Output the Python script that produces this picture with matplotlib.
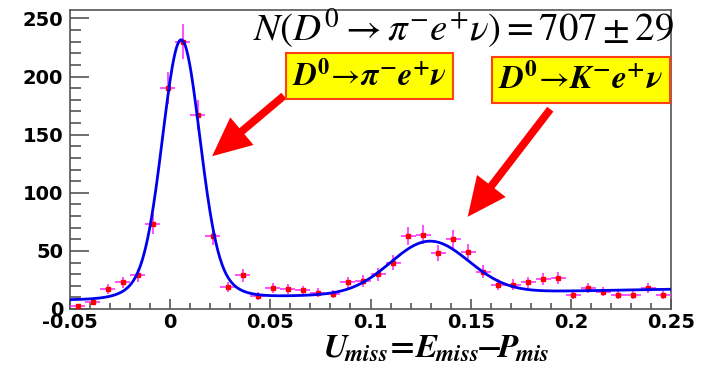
import numpy as np
import matplotlib
matplotlib.use("Agg")
import matplotlib.pyplot as plt
from matplotlib.ticker import MultipleLocator

plt.rcParams['mathtext.fontset'] = 'stix'

# ---- data ----
bin_lo, bin_hi, n_bins = -0.05, 0.25, 40
counts = [3, 6, 17, 23, 29, 73, 190, 230, 167, 63,
          19, 29, 11, 18, 17, 16, 14, 13, 23, 24,
          30, 40, 63, 64, 48, 60, 49, 32, 21, 21,
          23, 26, 27, 12, 18, 15, 12, 12, 18, 12]

# fit function parameters (signal core + tail, K e nu peak, linear background)
sig_core = (190.0, 0.0055, 0.009)
sig_tail = (32.0, 0.0055, 0.0155)
kev_peak = (45.0, 0.1295, 0.0195)
bkg_left, bkg_right = 8.0, 17.0

x_ticks = [-0.05, 0, 0.05, 0.1, 0.15, 0.2, 0.25]
x_ticklabels = ['-0.05', '0', '0.05', '0.1', '0.15', '0.2', '0.25']
y_ticks = [0, 50, 100, 150, 200, 250]

title_text = r'$N(D^0 \rightarrow \pi^{-} e^{+} \nu) = 707 \pm 29$'
box1_text = r'$\mathbfit{D}^{\mathbf{0}}\!\rightarrow\!\mathbfit{\pi}^{\mathbf{-}}\mathbfit{e}^{\mathbf{+}}\mathbfit{\nu}$'
box2_text = r'$\mathbfit{D}^{\mathbf{0}}\!\rightarrow\!\mathbfit{K}^{\mathbf{-}}\mathbfit{e}^{\mathbf{+}}\mathbfit{\nu}$'
xlabel_text = (r'$\mathbfit{U}_{\!\mathbfit{miss}}\!{\mathbf{=}}\!'
               r'\mathbfit{E}_{\!\mathbfit{miss}}\!{\mathbf{-}}\!'
               r'\mathbfit{P}_{\!\mathbfit{mis}}$')

# ---- derived ----
width = (bin_hi - bin_lo) / n_bins
centers = bin_lo + width * (np.arange(n_bins) + 0.5)
counts = np.array(counts, dtype=float)
errs = np.sqrt(counts)

def gauss(x, p):
    a, m, s = p
    return a * np.exp(-0.5 * ((x - m) / s) ** 2)

xf = np.linspace(bin_lo, bin_hi, 1200)
yf = (gauss(xf, sig_core) + gauss(xf, sig_tail) + gauss(xf, kev_peak)
      + bkg_left + (bkg_right - bkg_left) * (xf - bin_lo) / (bin_hi - bin_lo))

fig = plt.figure(figsize=(7.17, 3.68), dpi=100)
ax = fig.add_axes([70/717, 59/368, 601/717, 299/368])

ax.errorbar(centers, counts, yerr=errs, xerr=width/2, fmt='s', color='red',
            ms=3, ecolor='#ff33ff', elinewidth=1.2, capsize=0, zorder=3)
ax.plot(xf, yf, color='#0000ee', lw=2, zorder=4)

ax.set_xlim(bin_lo, bin_hi)
ax.set_ylim(0, 257.3)
ax.set_xticks(x_ticks)
ax.set_xticklabels(x_ticklabels)
ax.set_yticks(y_ticks)
ax.xaxis.set_minor_locator(MultipleLocator(0.01))
ax.yaxis.set_minor_locator(MultipleLocator(10))
ax.tick_params(axis='both', which='both', direction='in', color='#555555',
               top=False, right=False)
ax.tick_params(axis='y', which='major', length=14, width=1.2, pad=5)
ax.tick_params(axis='y', which='minor', length=8, width=1.2)
ax.tick_params(axis='x', which='major', length=7, width=1.2, pad=3)
ax.tick_params(axis='x', which='minor', length=4, width=1.2)
for lab in ax.get_xticklabels() + ax.get_yticklabels():
    lab.set_fontfamily('DejaVu Sans')
    lab.set_fontweight('bold')
    lab.set_fontsize(14)
for sp in ax.spines.values():
    sp.set_color('#555555')
    sp.set_linewidth(1.2)

ax.text(0.655, 0.94, title_text, transform=ax.transAxes, ha='center',
        va='center', fontsize=28, zorder=6)

bbox = dict(boxstyle='square,pad=0.2', fc='yellow', ec='#ff4010', lw=1.5)
ax.text(0.498, 0.779, box1_text, transform=ax.transAxes, ha='center',
        va='center', fontsize=23, bbox=bbox, zorder=6)
ax.text(0.850, 0.766, box2_text, transform=ax.transAxes, ha='center',
        va='center', fontsize=24, bbox=bbox, zorder=6)

arrow = dict(arrowstyle='simple,head_width=1.3,head_length=1.4,tail_width=0.28',
             mutation_scale=20, fc='red', ec='red', lw=0)
ax.annotate('', xy=((210-70)/601, (309-158)/299), xycoords='axes fraction',
            xytext=((286-70)/601, (309-94)/299), textcoords='axes fraction',
            arrowprops=arrow, zorder=5)
ax.annotate('', xy=((466-70)/601, (309-219)/299), xycoords='axes fraction',
            xytext=((552-70)/601, (309-107)/299), textcoords='axes fraction',
            arrowprops=arrow, zorder=5)

fig.text(436/717, 1 - 348/368, xlabel_text, ha='center', va='center',
         fontsize=24)

fig.savefig('out.png', dpi=100)
